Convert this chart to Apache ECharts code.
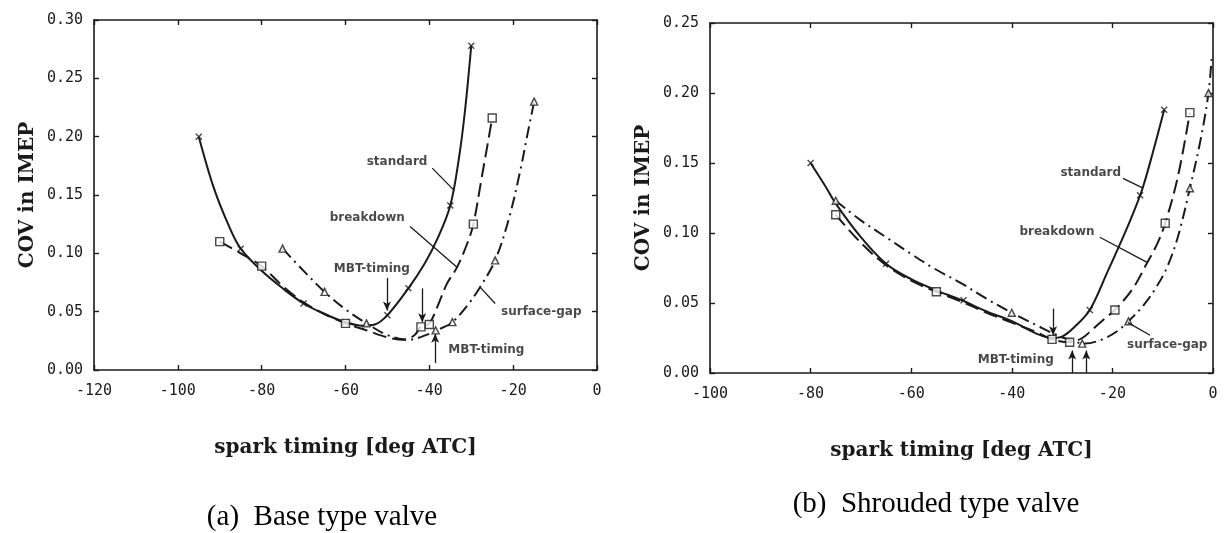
<!DOCTYPE html>
<html>
<head>
<meta charset="utf-8">
<script src="https://cdn.jsdelivr.net/npm/echarts@6/dist/echarts.min.js"></script>
<style>
html,body{margin:0;padding:0;background:#fff;}
#c{width:1229px;height:533px;}
</style>
</head>
<body>
<div id="c"></div>
<script>
// ---------- DATA ----------
// (a) Base type valve: smooth curves
const aStdX = [-95, -91.5, -88, -85, -80, -75, -70, -65, -60, -56, -53, -50, -45, -41, -38, -35, -33, -31.5, -30];
const aStdY = [0.200, 0.157, 0.125, 0.104, 0.085, 0.070, 0.057, 0.048, 0.041, 0.038, 0.039, 0.047, 0.070, 0.092, 0.113, 0.141, 0.180, 0.222, 0.278];
const aBrkX = [-90, -85, -80, -75, -70, -65, -60, -55, -50, -46, -43.5, -42, -40, -38, -35.8, -33.4, -31, -29.5, -27.5, -25];
const aBrkY = [0.110, 0.100, 0.089, 0.072, 0.058, 0.048, 0.040, 0.034, 0.028, 0.026, 0.030, 0.037, 0.040, 0.055, 0.074, 0.088, 0.108, 0.125, 0.165, 0.216];
const aSgX = [-75, -70, -65, -60, -55, -50, -45, -40, -37, -34.5, -31, -27.9, -24.3, -21, -18.3, -16.7, -15];
const aSgY = [0.104, 0.085, 0.067, 0.052, 0.040, 0.030, 0.026, 0.031, 0.036, 0.041, 0.055, 0.071, 0.094, 0.130, 0.171, 0.200, 0.230];
// (a) measured points (markers)
const aStdPts = [[-95, 0.200], [-85, 0.104], [-70, 0.057], [-60, 0.041], [-50, 0.047], [-45, 0.070], [-35, 0.141], [-30, 0.278]];
const aBrkPts = [[-90, 0.110], [-80, 0.089], [-60, 0.040], [-42, 0.037], [-40, 0.039], [-29.5, 0.125], [-25, 0.216]];
const aSgPts = [[-75, 0.104], [-65, 0.067], [-55, 0.040], [-38.5, 0.034], [-34.5, 0.041], [-24.3, 0.094], [-15, 0.230]];

// (b) Shrouded type valve: smooth curves
const bStdX = [-80, -77, -75, -70, -65, -60, -55, -50, -45, -40, -35, -32, -30, -27.5, -24.5, -21, -18.5, -16, -14, -12, -9.7];
const bStdY = [0.150, 0.133, 0.121, 0.097, 0.078, 0.067, 0.059, 0.052, 0.044, 0.037, 0.028, 0.025, 0.026, 0.033, 0.045, 0.072, 0.092, 0.113, 0.132, 0.157, 0.188];
const bBrkX = [-75, -70, -65, -60, -55, -50, -45, -40, -35, -32, -28.5, -26, -24, -21.5, -19.5, -16, -13.2, -11, -9.5, -7, -4.6];
const bBrkY = [0.113, 0.093, 0.077, 0.066, 0.058, 0.051, 0.043, 0.036, 0.029, 0.024, 0.022, 0.025, 0.031, 0.039, 0.045, 0.060, 0.078, 0.093, 0.107, 0.140, 0.186];
const bSgX = [-75, -70, -65, -60, -55.6, -50, -45, -40, -35, -31, -28, -25.5, -22, -19, -16.8, -13.9, -11.5, -9.2, -7, -4.6, -2.5, -0.9, -0.2];
const bSgY = [0.123, 0.109, 0.097, 0.085, 0.075, 0.064, 0.053, 0.043, 0.034, 0.027, 0.023, 0.021, 0.024, 0.030, 0.037, 0.048, 0.060, 0.075, 0.097, 0.132, 0.166, 0.200, 0.228];
// (b) measured points (markers)
const bStdPts = [[-80, 0.150], [-65, 0.078], [-49.6, 0.052], [-32, 0.025], [-24.5, 0.045], [-14.5, 0.127], [-9.7, 0.188]];
const bBrkPts = [[-75, 0.113], [-55, 0.058], [-32, 0.024], [-28.5, 0.022], [-19.5, 0.045], [-9.5, 0.107], [-4.6, 0.186]];
const bSgPts = [[-75, 0.123], [-40, 0.043], [-26, 0.021], [-16.8, 0.037], [-4.6, 0.132], [-0.9, 0.200]];

// axis tick settings
const aXMin = -120, bXMin = -100, xMax = 0, xStep = 20;
const aYMax = 0.30, bYMax = 0.25, yStep = 0.05;

// annotation texts (data coordinates)
const aLabels = [["standard", -47.7, 0.178], ["breakdown", -54.8, 0.130], ["MBT-timing", -53.7, 0.087], ["MBT-timing", -26.4, 0.017], ["surface-gap", -13.3, 0.050]];
const aPointers = [[-39.3, 0.173, -34.1, 0.154], [-44.6, 0.123, -33.4, 0.088], [-24.3, 0.057, -27.9, 0.071]];
const aArrows = [[-50.1, 0.079, -50.1, 0.051], [-41.7, 0.070, -41.7, 0.041], [-38.6, 0.006, -38.6, 0.031]];
const bLabels = [["standard", -24.3, 0.143], ["breakdown", -31.0, 0.1007], ["surface-gap", -9.1, 0.020], ["MBT-timing", -39.2, 0.0093]];
const bPointers = [[-17.9, 0.139, -13.9, 0.132], [-22.5, 0.097, -13.1, 0.079], [-12.5, 0.027, -16.9, 0.036]];
const bArrows = [[-31.8, 0.046, -31.8, 0.027], [-28.0, 0.0, -28.0, 0.016], [-25.2, 0.0, -25.2, 0.016]];

const captionA = "(a)  Base type valve";
const captionB = "(b)  Shrouded type valve";
const yName = "COV in IMEP";
const xName = "spark timing [deg ATC]";

// ---------- BUILD ----------
const INK = '#1a1a1a';
const zip = (xs, ys) => xs.map((x, i) => [x, ys[i]]);
const xSymbol = 'path://M0,0L10,10M10,0L0,10';

const grids = [
  {left: 94, top: 20, width: 503, height: 350},
  {left: 710, top: 23, width: 503, height: 350}
];

function xAxes(gi, min) {
  const base = {
    gridIndex: gi, type: 'value', min: min, max: xMax, interval: xStep,
    axisLine: {show: true, onZero: false, lineStyle: {color: INK, width: 1.6}},
    axisTick: {show: true, inside: true, length: 5, lineStyle: {color: INK, width: 1.4}},
    splitLine: {show: false}
  };
  return [
    Object.assign({}, base, {
      position: 'bottom',
      axisLabel: {show: true, color: INK, fontFamily: 'DejaVu Sans Mono', fontSize: 15, margin: 14,
        formatter: v => (v === 0 ? '0' : String(v))},
      name: xName, nameLocation: 'middle', nameGap: 68,
      nameTextStyle: {color: INK, fontFamily: 'DejaVu Serif', fontWeight: 'bold', fontSize: 20}
    }),
    Object.assign({}, base, {position: 'top', axisLabel: {show: false}})
  ];
}
function yAxes(gi, max) {
  const base = {
    gridIndex: gi, type: 'value', min: 0, max: max, interval: yStep,
    axisLine: {show: true, onZero: false, lineStyle: {color: INK, width: 1.6}},
    axisTick: {show: true, inside: true, length: 5, lineStyle: {color: INK, width: 1.4}},
    splitLine: {show: false}
  };
  return [
    Object.assign({}, base, {
      position: 'left',
      axisLabel: {show: true, color: INK, fontFamily: 'DejaVu Sans Mono', fontSize: 15, margin: 11,
        formatter: v => v.toFixed(2)},
      name: yName, nameLocation: 'middle', nameGap: 56, nameRotate: 90,
      nameTextStyle: {color: INK, fontFamily: 'DejaVu Serif', fontWeight: 'bold', fontSize: 20}
    }),
    Object.assign({}, base, {position: 'right', axisLabel: {show: false}})
  ];
}

function curve(xi, yi, xs, ys, dash) {
  return {
    type: 'line', xAxisIndex: xi, yAxisIndex: yi, data: zip(xs, ys),
    smooth: 0.35, showSymbol: false, symbol: 'none',
    lineStyle: {color: INK, width: 2, type: dash},
    z: 2, silent: true
  };
}
function marks(xi, yi, pts, kind) {
  const s = {
    type: 'scatter', xAxisIndex: xi, yAxisIndex: yi, data: pts, silent: true, z: 3,
    itemStyle: {color: '#fff', borderColor: INK, borderWidth: 1.4}
  };
  if (kind === 'x') { s.symbol = xSymbol; s.symbolSize = 6; s.itemStyle = {color: 'none', borderColor: INK, borderWidth: 1.4}; }
  if (kind === 'sq') { s.symbol = 'rect'; s.symbolSize = 8; }
  if (kind === 'tri') { s.symbol = 'triangle'; s.symbolSize = 7; }
  return s;
}
function notes(xi, yi, labels, pointers, arrows) {
  const ml = [];
  pointers.forEach(p => ml.push([{coord: [p[0], p[1]], symbol: 'none'}, {coord: [p[2], p[3]], symbol: 'none'}]));
  arrows.forEach(p => ml.push([{coord: [p[0], p[1]], symbol: 'none'}, {coord: [p[2], p[3]], symbol: 'arrow', symbolSize: [6, 9]}]));
  return {
    type: 'scatter', xAxisIndex: xi, yAxisIndex: yi, silent: true, z: 4,
    symbolSize: 0,
    data: labels.map(l => ({name: l[0], value: [l[1], l[2]]})),
    label: {show: true, position: 'inside', formatter: p => p.name, color: INK,
      fontFamily: 'DejaVu Sans', fontWeight: 'bold', fontSize: 12},
    markLine: {
      silent: true, animation: false, symbol: ['none', 'none'],
      label: {show: false},
      lineStyle: {color: INK, width: 1.3, type: 'solid'},
      emphasis: {disabled: true},
      data: ml
    }
  };
}

const option = {
  backgroundColor: '#fff',
  animation: false,
  grid: grids,
  xAxis: [].concat(xAxes(0, aXMin), xAxes(1, bXMin)),
  yAxis: [].concat(yAxes(0, aYMax), yAxes(1, bYMax)),
  series: [
    curve(0, 0, aStdX, aStdY, 'solid'),
    curve(0, 0, aBrkX, aBrkY, [14, 6]),
    curve(0, 0, aSgX, aSgY, [12, 5, 2, 5]),
    marks(0, 0, aStdPts, 'x'),
    marks(0, 0, aBrkPts, 'sq'),
    marks(0, 0, aSgPts, 'tri'),
    notes(0, 0, aLabels, aPointers, aArrows),
    curve(2, 2, bStdX, bStdY, 'solid'),
    curve(2, 2, bBrkX, bBrkY, [14, 6]),
    curve(2, 2, bSgX, bSgY, [12, 5, 2, 5]),
    marks(2, 2, bStdPts, 'x'),
    marks(2, 2, bBrkPts, 'sq'),
    marks(2, 2, bSgPts, 'tri'),
    notes(2, 2, bLabels, bPointers, bArrows)
  ],
  graphic: [
    {type: 'text', x: 322, y: 517, style: {text: captionA, fill: '#000', font: '29px "Liberation Serif"', textAlign: 'center', textVerticalAlign: 'middle'}},
    {type: 'text', x: 936, y: 504, style: {text: captionB, fill: '#000', font: '29px "Liberation Serif"', textAlign: 'center', textVerticalAlign: 'middle'}}
  ]
};

const chart = echarts.init(document.getElementById('c'), null, {renderer: 'canvas'});
chart.setOption(option);
</script>
</body>
</html>
